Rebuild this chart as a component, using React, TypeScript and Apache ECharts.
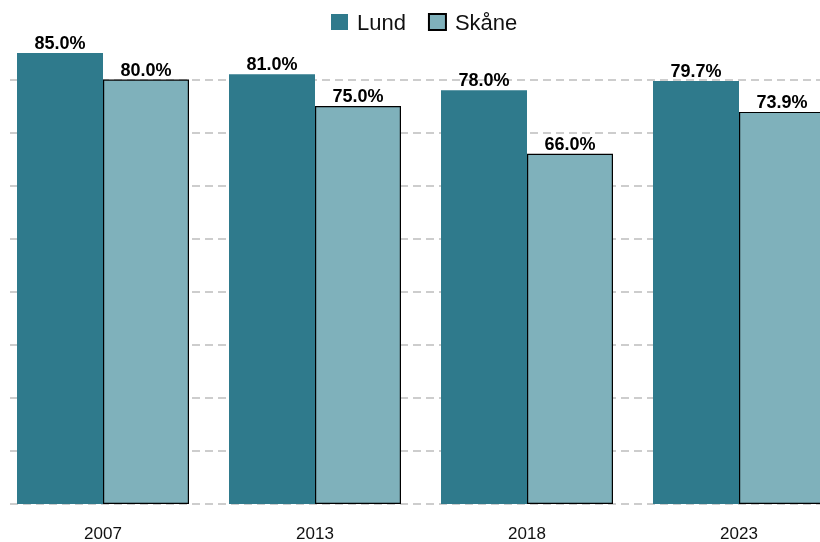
import React, { useEffect, useRef } from "react";
import * as echarts from "echarts";

const categories = ["2007", "2013", "2018", "2023"];
const lundValues = [85.0, 81.0, 78.0, 79.7];
const skaneValues = [80.0, 75.0, 66.0, 73.9];
const seriesNames = ["Lund", "Skåne"];

export default function App() {
  const ref = useRef<HTMLDivElement>(null);
  useEffect(() => {
    if (!ref.current) return;
    const chart = echarts.init(ref.current, null, { renderer: "svg" });
    const labelCfg = {
      show: true,
      position: "top",
      distance: 1,
      color: "#000",
      fontWeight: "bold",
      fontSize: 18,
      fontFamily: "Liberation Sans, Arial, sans-serif",
      formatter: (p: any) => p.value.toFixed(1) + "%",
    };
    chart.setOption({
      animation: false,
      textStyle: { fontFamily: "Liberation Sans, Arial, sans-serif" },
      legend: {
        top: 3,
        left: 334,
        padding: 0,
        icon: "rect",
        itemWidth: 17,
        itemHeight: 16,
        itemGap: 22,
        textStyle: { fontSize: 22, color: "#111", padding: [0, 0, 0, 4] },
        data: seriesNames,
      },
      grid: { left: 0, right: 0, top: 45, bottom: 38, containLabel: false },
      xAxis: {
        type: "category",
        data: categories,
        axisLine: { show: false },
        axisTick: { show: false },
        axisLabel: { fontSize: 17, color: "#111", margin: 21 },
      },
      yAxis: {
        type: "value",
        min: 0,
        max: 85,
        interval: 10,
        axisLine: { show: false },
        axisTick: { show: false },
        axisLabel: { show: false },
        splitLine: {
          show: true,
          showMaxLine: false,
          showMinLine: true,
          lineStyle: { color: "#bdbdbd", type: [8, 5], width: 1.5 },
        },
      },
      series: [
        {
          name: seriesNames[0],
          type: "bar",
          data: lundValues,
          barWidth: 86,
          barGap: "0%",
          itemStyle: { color: "#2f7a8c" },
          label: labelCfg,
        },
        {
          name: seriesNames[1],
          type: "bar",
          data: skaneValues,
          barWidth: 86,
          barGap: "0%",
          itemStyle: { color: "#7fb1bb", borderColor: "#000", borderWidth: 1.2 },
          label: labelCfg,
        },
      ],
    });
    return () => chart.dispose();
  }, []);
  return (
    <div style={{ position: "fixed", left: 8, top: 8, width: 812, height: 534, overflow: "hidden" }}>
      <div ref={ref} style={{ position: "absolute", left: -11, top: 0, width: 848, height: 534 }} />
    </div>
  );
}
